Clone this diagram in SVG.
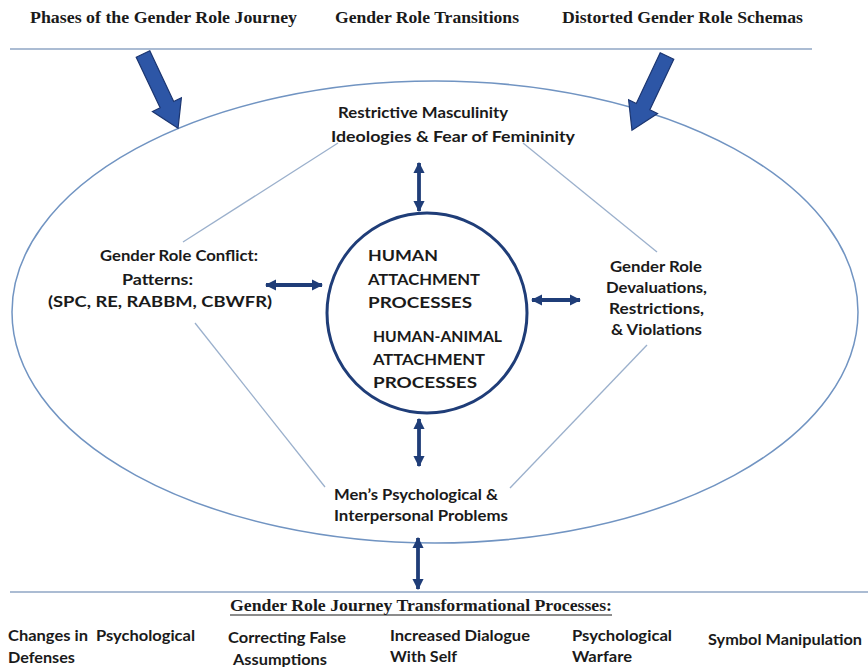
<svg xmlns="http://www.w3.org/2000/svg" width="868" height="667" viewBox="0 0 868 667">
<style>
.ser{font-family:"Liberation Serif","Times New Roman",serif;font-weight:bold;font-size:16px;fill:#1a1a1a}
.sans{font-family:Lato,"Liberation Sans",sans-serif;font-weight:bold;font-size:15px;fill:#1a1a1a}
.rule{stroke:#8fa6c4;stroke-width:1.6;fill:none}
.thin{stroke:#9bb0cc;stroke-width:1.3;fill:none}
.big{fill:#2d56a6;stroke:#1b3570;stroke-width:1.2}
.dbl{stroke:#1f3d78;stroke-width:3.8;fill:none;marker-start:url(#hs);marker-end:url(#he)}
</style>
<defs>
<marker id="he" viewBox="0 0 10 10" refX="9" refY="5" markerWidth="3" markerHeight="3" orient="auto" markerUnits="strokeWidth"><path d="M0,0 L10,5 L0,10 Z" fill="#1f3d78"/></marker>
<marker id="hs" viewBox="0 0 10 10" refX="1" refY="5" markerWidth="3" markerHeight="3" orient="auto" markerUnits="strokeWidth"><path d="M10,0 L0,5 L10,10 Z" fill="#1f3d78"/></marker>
</defs>
<rect width="868" height="667" fill="#ffffff"/>

<g id="header">
<text class="ser" x="30" y="23" textLength="267" lengthAdjust="spacingAndGlyphs">Phases of the Gender Role Journey</text>
<text class="ser" x="335" y="23" textLength="184" lengthAdjust="spacingAndGlyphs">Gender Role Transitions</text>
<text class="ser" x="562" y="23" textLength="241" lengthAdjust="spacingAndGlyphs">Distorted Gender Role Schemas</text>
<line class="rule" x1="10" y1="49" x2="812" y2="49"/>
</g>

<g id="outer-ellipse">
<ellipse cx="435" cy="312" rx="423" ry="231" fill="none" stroke="#7194c2" stroke-width="1.5"/>
</g>

<g id="big-arrows">
<polygon class="big" transform="translate(143,54) rotate(64.7)" points="0,-7.5 56,-7.5 56,-16 82,0 56,16 56,7.5 0,7.5"/>
<polygon class="big" transform="translate(667,56) rotate(115.3)" points="0,-7.5 56,-7.5 56,-16 82,0 56,16 56,7.5 0,7.5"/>
</g>

<g id="connectors">
<line class="thin" x1="338" y1="143" x2="183" y2="242"/>
<line class="thin" x1="523" y1="143" x2="657" y2="252"/>
<line class="thin" x1="195" y1="323" x2="325" y2="487"/>
<line class="thin" x1="647" y1="345" x2="510" y2="488"/>
<line class="dbl" x1="419" y1="163" x2="419" y2="211"/>
<line class="dbl" x1="266" y1="285" x2="322" y2="285"/>
<line class="dbl" x1="532" y1="300" x2="580" y2="300"/>
<line class="dbl" x1="419" y1="419" x2="419" y2="466"/>
<line class="dbl" x1="418" y1="538" x2="418" y2="589"/>
</g>

<g id="center-circle">
<circle cx="427" cy="313" r="100" fill="none" stroke="#1f3d78" stroke-width="3"/>
<text class="sans" x="368" y="261" textLength="70" lengthAdjust="spacingAndGlyphs">HUMAN</text>
<text class="sans" x="368" y="285" textLength="112" lengthAdjust="spacingAndGlyphs">ATTACHMENT</text>
<text class="sans" x="368" y="308" textLength="104" lengthAdjust="spacingAndGlyphs">PROCESSES</text>
<text class="sans" x="373" y="342" textLength="129" lengthAdjust="spacingAndGlyphs">HUMAN-ANIMAL</text>
<text class="sans" x="373" y="365" textLength="112" lengthAdjust="spacingAndGlyphs">ATTACHMENT</text>
<text class="sans" x="373" y="388" textLength="104" lengthAdjust="spacingAndGlyphs">PROCESSES</text>
</g>

<g id="node-restrictive">
<text class="sans" x="338" y="118" textLength="170" lengthAdjust="spacingAndGlyphs">Restrictive Masculinity</text>
<text class="sans" x="331" y="142" textLength="244" lengthAdjust="spacingAndGlyphs">Ideologies &amp; Fear of Femininity</text>
</g>

<g id="node-conflict">
<text class="sans" x="100" y="261" textLength="158" lengthAdjust="spacingAndGlyphs">Gender Role Conflict:</text>
<text class="sans" x="122" y="285" textLength="71" lengthAdjust="spacingAndGlyphs">Patterns:</text>
<text class="sans" x="48" y="307" textLength="224" lengthAdjust="spacingAndGlyphs">(SPC, RE, RABBM, CBWFR)</text>
</g>

<g id="node-devaluations">
<text class="sans" x="610" y="272" textLength="92" lengthAdjust="spacingAndGlyphs">Gender Role</text>
<text class="sans" x="606" y="293" textLength="101" lengthAdjust="spacingAndGlyphs">Devaluations,</text>
<text class="sans" x="609" y="314" textLength="95" lengthAdjust="spacingAndGlyphs">Restrictions,</text>
<text class="sans" x="611" y="335" textLength="91" lengthAdjust="spacingAndGlyphs">&amp; Violations</text>
</g>

<g id="node-problems">
<text class="sans" x="334" y="500" textLength="164" lengthAdjust="spacingAndGlyphs">Men’s Psychological &amp;</text>
<text class="sans" x="334" y="521" textLength="174" lengthAdjust="spacingAndGlyphs">Interpersonal Problems</text>
</g>

<g id="footer">
<line class="rule" x1="10" y1="592" x2="868" y2="592"/>
<text class="ser" x="230" y="611" textLength="382" lengthAdjust="spacingAndGlyphs">Gender Role Journey Transformational Processes:</text>
<line x1="230" y1="615" x2="612" y2="615" stroke="#1a1a1a" stroke-width="1.2"/>
<text class="sans" x="8" y="641" textLength="187" lengthAdjust="spacingAndGlyphs" xml:space="preserve">Changes in  Psychological</text>
<text class="sans" x="8" y="663" textLength="67" lengthAdjust="spacingAndGlyphs">Defenses</text>
<text class="sans" x="228" y="643" textLength="118" lengthAdjust="spacingAndGlyphs">Correcting False</text>
<text class="sans" x="233" y="665" textLength="94" lengthAdjust="spacingAndGlyphs">Assumptions</text>
<text class="sans" x="390" y="641" textLength="140" lengthAdjust="spacingAndGlyphs">Increased Dialogue</text>
<text class="sans" x="390" y="662" textLength="67" lengthAdjust="spacingAndGlyphs">With Self</text>
<text class="sans" x="572" y="641" textLength="100" lengthAdjust="spacingAndGlyphs">Psychological</text>
<text class="sans" x="572" y="662" textLength="60" lengthAdjust="spacingAndGlyphs">Warfare</text>
<text class="sans" x="708" y="645" textLength="154" lengthAdjust="spacingAndGlyphs">Symbol Manipulation</text>
</g>
</svg>
